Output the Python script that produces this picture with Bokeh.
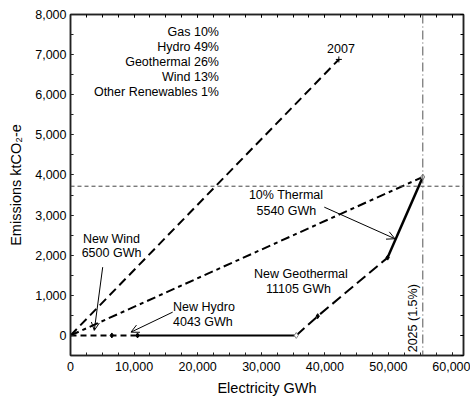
from bokeh.plotting import figure
from bokeh.models import (Range1d, SingleIntervalTicker, LinearAxis, Arrow, OpenHead,
                          NumeralTickFormatter, Span, CustomJSTickFormatter)
from bokeh.core.properties import value
from bokeh.embed import file_html
from bokeh.resources import INLINE
import math

# ---- data ----
path_2007_x = [0, 42200]
path_2007_y = [0, 6880]

thermal_mix_x = [0, 55400]
thermal_mix_y = [0, 3950]

wind_hydro_x = [0, 6500, 10543]
wind_hydro_y = [0, 0, 0]

existing_x = [10543, 35500]
existing_y = [0, 0]

geothermal_x = [35500, 38870, 49870]
geothermal_y = [0, 480, 1940]

thermal_x = [49870, 55400]
thermal_y = [1940, 3950]

target_emissions = 3720
year_2025_electricity = 55400

mix_labels = ["Gas 10%", "Hydro 49%", "Geothermal 26%", "Wind 13%", "Other Renewables 1%"]

FONT = "Liberation Sans"

p = figure(width=470, height=400, output_backend="svg", toolbar_location=None,
           x_range=Range1d(0, 61800), y_range=Range1d(-500, 8000),
           min_border_left=70, min_border_right=7, min_border_top=14, min_border_bottom=45)
p.xgrid.visible = False
p.ygrid.visible = False
p.outline_line_color = "#222222"
p.outline_line_width = 1.5
p.background_fill_color = "white"
p.border_fill_color = "white"

p.xaxis.ticker = SingleIntervalTicker(interval=10000, num_minor_ticks=4)
p.yaxis.ticker = SingleIntervalTicker(interval=1000, num_minor_ticks=2)
p.xaxis.formatter = NumeralTickFormatter(format="0,0")
p.yaxis.formatter = NumeralTickFormatter(format="0,0")
p.xaxis.axis_label = "Electricity GWh"
p.yaxis.axis_label = "Emissions ktCO₂-e"

for ax in [p.xaxis[0], p.yaxis[0]]:
    ax.major_tick_in = 3
    ax.major_tick_out = 0
    ax.minor_tick_in = 3
    ax.minor_tick_out = 0
    ax.axis_line_width = 1.5
    ax.axis_line_color = "#222222"
    ax.major_tick_line_color = "#222222"
    ax.minor_tick_line_color = "#222222"
    ax.major_label_text_font = FONT
    ax.major_label_text_font_size = "12.5px"
    ax.major_label_text_color = "black"
    ax.axis_label_text_font = FONT
    ax.axis_label_text_font_size = "14.5px"
    ax.axis_label_text_font_style = "normal"
    ax.axis_label_text_color = "black"
p.xaxis.major_label_standoff = 6
p.xaxis.axis_label_standoff = 6
p.yaxis.major_label_standoff = 4
p.yaxis.axis_label_standoff = 8

# mirrored ticks on top and right (no labels)
top = LinearAxis(ticker=SingleIntervalTicker(interval=10000, num_minor_ticks=4))
right = LinearAxis(ticker=SingleIntervalTicker(interval=1000, num_minor_ticks=2))
for ax in [top, right]:
    ax.formatter = CustomJSTickFormatter(code="return ''")
    ax.major_tick_in = 3
    ax.major_tick_out = 0
    ax.minor_tick_in = 3
    ax.minor_tick_out = 0
    ax.axis_line_width = 1.5
    ax.axis_line_color = "#222222"
    ax.major_label_text_color = None
    ax.major_label_standoff = 0
p.add_layout(top, "above")
p.add_layout(right, "right")

# reference lines
p.add_layout(Span(location=target_emissions, dimension="width", line_color="#444444",
                  line_width=1, line_dash="4 3"))
p.add_layout(Span(location=year_2025_electricity, dimension="height", line_color="#555555",
                  line_width=1, line_dash="9 3 1 3"))

# 2007 line
p.line(path_2007_x, path_2007_y, line_color="black", line_width=2, line_dash="9 5")
p.scatter([path_2007_x[-1]], [path_2007_y[-1]], marker="cross", size=6, line_color="black", line_width=1)

# thermal mix line
p.line(thermal_mix_x, thermal_mix_y, line_color="black", line_width=2, line_dash="9 4 4 4")

# scenario path
p.line(wind_hydro_x, wind_hydro_y, line_color="black", line_width=2, line_dash="6 4")
p.line(existing_x, existing_y, line_color="black", line_width=2)
p.line(geothermal_x, geothermal_y, line_color="black", line_width=2, line_dash="11 5")
p.line(thermal_x, thermal_y, line_color="black", line_width=2.5)
p.scatter(wind_hydro_x[1:], wind_hydro_y[1:], marker="diamond", size=5, color="black")
p.scatter(geothermal_x[1:], geothermal_y[1:], marker="diamond", size=5, color="black")
p.scatter([existing_x[-1], thermal_x[-1]], [existing_y[-1], thermal_y[-1]], marker="diamond",
          size=6, fill_color="white", line_color="#888888", line_width=1)

def txt(x, y, s, align="center", baseline="middle", angle=0.0):
    p.text([x], [y], text=[s], text_font=value(FONT), text_font_size="12.5px",
           text_align=align, text_baseline=baseline, text_color="black", angle=angle)

# mix block
for i, lab in enumerate(mix_labels):
    txt(23350, 7560 - i * 370, lab, align="right")

txt(42530, 7160, "2007")
txt(33900, 3490, "10% Thermal")
txt(33950, 3090, "5540 GWh")
txt(36240, 1520, "New Geothermal")
txt(35850, 1170, "11105 GWh")
txt(6450, 2393, "New Wind")
txt(6450, 2044, "6500 GWh")
txt(16120, 698, "New Hydro", align="left")
txt(16120, 324, "4043 GWh", align="left")
txt(53800, -420, "2025 (1.5%)", align="left", angle=math.pi / 2)

# arrows
for (xs, ys, xe, ye) in [(5063, 1702, 3742, 125), (16069, 581, 9513, 82), (39906, 3198, 51022, 2410)]:
    p.add_layout(Arrow(end=OpenHead(size=8, line_width=1, line_color="black"),
                       x_start=xs, y_start=ys, x_end=xe, y_end=ye,
                       line_width=1, line_color="black"))

open("out.html", "w").write(file_html(p, INLINE))
